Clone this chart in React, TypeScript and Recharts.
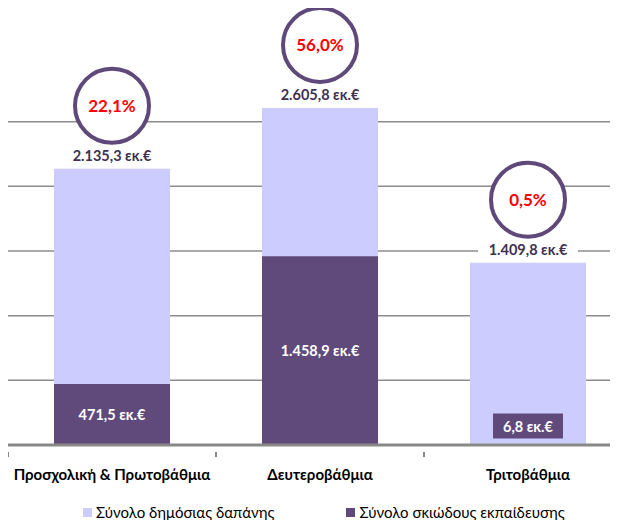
import { Bar, BarChart, CartesianGrid, LabelList, Legend, XAxis, YAxis } from "recharts";

const levels = ["Προσχολική & Πρωτοβάθμια", "Δευτεροβάθμια", "Τριτοβάθμια"];
const publicSpending = [2135.3, 2605.8, 1409.8];
const shadowSpending = [471.5, 1458.9, 6.8];
const shareLabels = ["22,1%", "56,0%", "0,5%"];
const gridValues = [500, 1000, 1500, 2000, 2500];

const LIGHT = "#ccccff";
const DARK = "#604a7b";
const FONT = "Lato, 'Noto Sans', sans-serif";

const data = levels.map((name, i) => ({
  name,
  total: publicSpending[i],
  shadow: shadowSpending[i],
  share: shareLabels[i],
}));

const fmt = (v: number) => {
  const [int, dec] = v.toFixed(1).split(".");
  return int.replace(/\B(?=(\d{3})+(?!\d))/g, ".") + "," + dec + " εκ.€";
};

const TotalLabel = (props: any) => {
  const { x, y, width, value, index } = props;
  const cx = x + width / 2;
  return (
    <g>
      <rect x={cx - 50} y={y - 23} width={100} height={19} fill="#fff" />
      <text x={cx} y={y - 13} textAnchor="middle" dominantBaseline="central"
        fill="#403152" fontSize={14.5} fontWeight="bold" fontFamily={FONT}>
        {fmt(value)}
      </text>
      <circle cx={cx} cy={y - 63} r={37} fill="#fff" stroke="#5f497a" strokeWidth={4} />
      <text x={cx} y={y - 63} textAnchor="middle" dominantBaseline="central"
        fill="#ff0000" fontSize={17} fontWeight="bold" fontFamily={FONT}>
        {data[index].share}
      </text>
    </g>
  );
};

const ShadowLabel = (props: any) => {
  const { x, y, width, height, value } = props;
  const cx = x + width / 2;
  const small = height < 30;
  const cy = small ? y + height - 19 : y + height / 2;
  return (
    <g>
      {small && <rect x={cx - 35} y={cy - 12.5} width={70} height={25} fill={DARK} />}
      <text x={cx} y={cy} textAnchor="middle" dominantBaseline="central"
        fill="#fff" fontSize={14.5} fontWeight="bold" fontFamily={FONT}>
        {fmt(value)}
      </text>
    </g>
  );
};

const CategoryTick = (props: any) => {
  const { x, y, payload } = props;
  return (
    <g>
      <line x1={x - 104} y1={y - 1} x2={x - 104} y2={y + 4} stroke="#888" strokeWidth={2} />
      <text x={x} y={y + 21} textAnchor="middle" dominantBaseline="central"
        fill="#000" fontSize={15} fontWeight="bold" fontFamily={FONT}>
        {payload.value}
      </text>
    </g>
  );
};

const LegendContent = () => (
  <div style={{ display: "flex", paddingLeft: 75, height: 20, alignItems: "center", fontFamily: FONT, fontSize: 15, color: "#000" }}>
    <span style={{ display: "inline-block", width: 9, height: 9, background: LIGHT, marginRight: 4 }} />
    <span style={{ marginRight: 72 }}>Σύνολο δημόσιας δαπάνης</span>
    <span style={{ display: "inline-block", width: 9, height: 9, background: DARK, marginRight: 4 }} />
    <span>Σύνολο σκιώδους εκπαίδευσης</span>
  </div>
);

export default function App() {
  return (
    <div style={{ width: 610, height: 512, overflow: "hidden" }}>
      <BarChart
        width={640}
        height={530}
        data={data}
        margin={{ top: 49, right: 16, left: 0, bottom: 16 }}
        barSize={116}
        barGap={-116}
      >
        <CartesianGrid vertical={false} stroke="#8c8c8c" strokeWidth={1.5}
          horizontalValues={gridValues} />
        <YAxis hide domain={[0, 3000]} ticks={gridValues} />
        <XAxis
          dataKey="name"
          height={57}
          stroke="#888"
          strokeWidth={3}
          tickLine={false}
          tick={<CategoryTick />}
          interval={0}
        />
        <Legend verticalAlign="bottom" content={<LegendContent />} />
        <Bar dataKey="total" fill={LIGHT} isAnimationActive={false}>
          <LabelList dataKey="total" content={<TotalLabel />} />
        </Bar>
        <Bar dataKey="shadow" fill={DARK} isAnimationActive={false}>
          <LabelList dataKey="shadow" content={<ShadowLabel />} />
        </Bar>
      </BarChart>
    </div>
  );
}
